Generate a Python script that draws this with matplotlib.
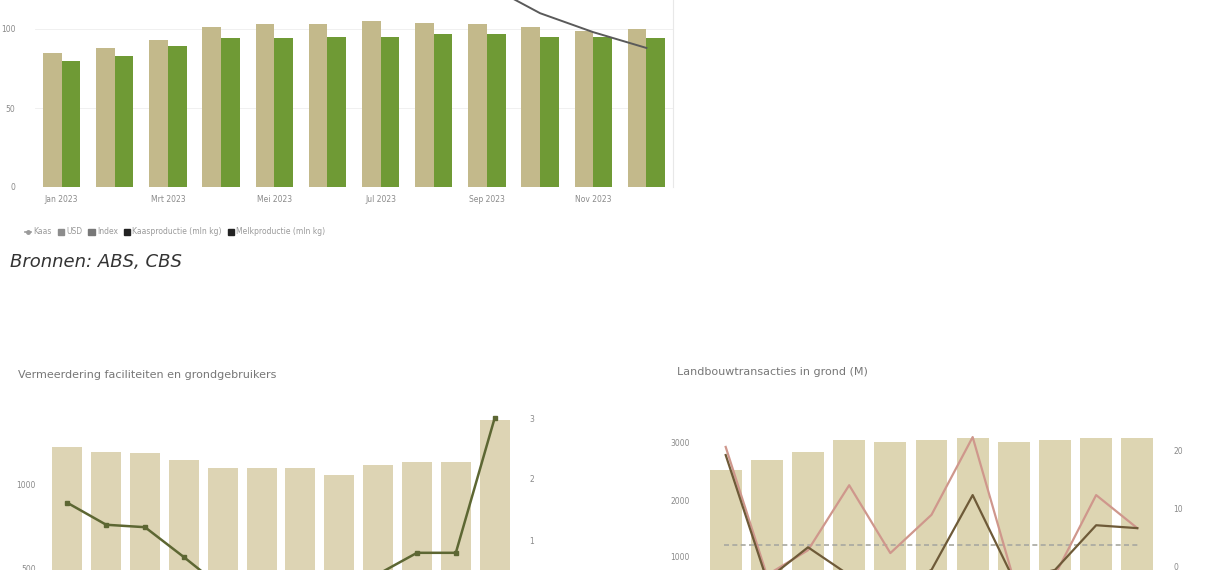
import matplotlib
matplotlib.use("Agg")
import matplotlib.pyplot as plt
from matplotlib.patches import Patch
from matplotlib.lines import Line2D
import numpy as np

W, H = 1218, 570

# ---------------- data ----------------
# top chart
top_months = ["Jan 2023", "Feb 2023", "Mrt 2023", "Apr 2023", "Mei 2023", "Jun 2023",
              "Jul 2023", "Aug 2023", "Sep 2023", "Okt 2023", "Nov 2023", "Dec 2023"]
top_tick_labels = ["Jan 2023", "Mrt 2023", "Mei 2023", "Jul 2023", "Sep 2023", "Nov 2023"]
usd_values = [85, 88, 93, 101, 103, 103, 105, 104, 103, 101, 99, 100]
index_values = [80, 83, 89, 94, 94, 95, 95, 97, 97, 95, 95, 94]
kaas_line = [None, None, None, None, None, None, None, None, 128, 110, 98, 88]
top_legend = ["Kaas", "USD", "Index", "Kaasproductie (mln kg)", "Melkproductie (mln kg)"]
source_text = "Bronnen: ABS, CBS"

# bottom-left chart
bl_title = "Vermeerdering faciliteiten en grondgebruikers"
bl_categories = ["jan", "feb", "mrt", "apr", "mei", "jun", "jul", "aug", "sep", "okt", "nov", "dec"]
bl_bars = [1230, 1200, 1190, 1150, 1100, 1100, 1100, 1060, 1120, 1140, 1140, 1390]
bl_line = [1.61, 1.25, 1.21, 0.72, 0.21, 0.10, 0.15, 0.30, 0.44, 0.79, 0.79, 3.0]

# bottom-right chart
br_title = "Landbouwtransacties in grond (M)"
br_categories = ["2013", "2014", "2015", "2016", "2017", "2018", "2019", "2020", "2021", "2022", "2023"]
br_bars = [2530, 2700, 2840, 3050, 3020, 3050, 3090, 3020, 3050, 3090, 3090]
br_line_a = [20.7, -1.4, 2.9, 14.1, 2.4, 9.0, 22.4, -2.2, -1.4, 12.4, 6.7]
br_line_b = [19.3, -2.2, 3.4, -1.4, -4.0, -0.5, 12.4, -2.2, -0.5, 7.2, 6.7]
br_average = 3.8

# ---------------- styling ----------------
TAN = "#c3b98b"
GREEN = "#6f9a35"
LIGHT_TAN = "#ddd4b4"
TICK_COLOR = "#8a8a8a"
plt.rcParams["font.family"] = ["DejaVu Sans"]

fig = plt.figure(figsize=(W / 100, H / 100), dpi=100)
fig.patch.set_facecolor("white")


def px_axes(left, top, right, bottom):
    return fig.add_axes([left / W, 1 - bottom / H, (right - left) / W, (bottom - top) / H])


def clean(ax):
    for s in ax.spines.values():
        s.set_visible(False)
    ax.tick_params(axis="both", length=0, labelsize=5.5, colors=TICK_COLOR)


# ---------------- top chart ----------------
ax = px_axes(35, -10, 673, 187)
x = np.arange(len(top_months))
bw = 0.35
ax.bar(x - bw / 2, usd_values, width=bw, color=TAN, zorder=2)
ax.bar(x + bw / 2, index_values, width=bw, color=GREEN, zorder=2)
lx = [i for i, v in enumerate(kaas_line) if v is not None]
ly = [v for v in kaas_line if v is not None]
ax.plot(lx, ly, color="#5a5a5a", lw=1.4, zorder=3)
ax.set_xlim(-0.5, len(x) - 0.5)
ax.set_ylim(0, (187 + 10) / 1.58)
ax.set_yticks([0, 50, 100])
ax.set_xticks([0, 2, 4, 6, 8, 10])
ax.set_xticklabels(top_tick_labels)
ax.grid(axis="y", color="#eeeeee", lw=0.6, zorder=0)
clean(ax)
ax.spines["right"].set_visible(True)
ax.spines["right"].set_color("#e8e8e8")
ax.tick_params(axis="y", pad=14)
ax.tick_params(axis="x", pad=6)

handles = [
    Line2D([0], [0], color="#9a9a9a", lw=1.2, marker="o", markersize=2.5),
    Patch(color="#8c8c8c"),
    Patch(color="#777777"),
    Patch(color="#222222"),
    Patch(color="#222222"),
]
fig.legend(handles, top_legend, loc="center left", bbox_to_anchor=(18 / W, 1 - 232 / H),
           ncol=5, frameon=False, fontsize=5.5, handlelength=0.8, handleheight=0.8,
           handletextpad=0.3, columnspacing=0.8, labelcolor="#9a9a9a")
fig.text(10 / W, 1 - 262 / H, source_text, fontsize=13, style="italic", color="#333333",
         va="center", ha="left")

# ---------------- bottom-left chart ----------------
fig.text(18 / W, 1 - 375 / H, bl_title, fontsize=8, color="#777777", va="center", ha="left")
ax2 = px_axes(44, 410, 518, 651)
xb = np.arange(len(bl_categories))
ax2.bar(xb, bl_bars, width=0.77, color=LIGHT_TAN, zorder=2)
ax2.set_xlim(-0.6, len(xb) - 0.4)
ax2.set_ylim(0, (651 - 410) / 0.166)
ax2.set_yticks([500, 1000])
ax2.set_xticks(xb)
ax2.set_xticklabels(bl_categories)
clean(ax2)
ax2.tick_params(axis="x", labelbottom=False)
ax2.tick_params(axis="y", pad=6)
ax2r = ax2.twinx()
ax2r.plot(xb, bl_line, color="#5d6733", lw=1.8, marker="s", markersize=3, zorder=4)
ax2r.set_ylim((601 - 651) / 61, (601 - 410) / 61)
ax2r.set_yticks([1, 2, 3])
clean(ax2r)
ax2r.tick_params(axis="x", labelbottom=False)
ax2r.tick_params(axis="y", pad=8)

# ---------------- bottom-right chart ----------------
fig.text(677 / W, 1 - 372 / H, br_title, fontsize=8, color="#777777", va="center", ha="left")
ax3 = px_axes(701, 425, 1162, 614)
xr = np.arange(len(br_categories))
ax3.bar(xr, br_bars, width=0.77, color="#ddd5b2", zorder=2)
ax3.set_xlim(-0.6, len(xr) - 0.4)
ax3.set_ylim(0, (614 - 425) / 0.057)
ax3.set_yticks([1000, 2000, 3000])
ax3.set_xticks(xr)
ax3.set_xticklabels(br_categories)
clean(ax3)
ax3.tick_params(axis="x", labelbottom=False)
ax3.tick_params(axis="y", pad=8)
ax3r = ax3.twinx()
ax3r.axhline(br_average, xmin=0.05, xmax=0.95, color="#a8a8a0", lw=1.2, ls=(0, (3, 2)), zorder=3)
ax3r.plot(xr, br_line_a, color="#cf978c", lw=1.6, zorder=4)
ax3r.plot(xr, br_line_b, color="#6e5a38", lw=1.6, zorder=5)
ax3r.set_ylim((567 - 614) / 5.8, (567 - 425) / 5.8)
ax3r.set_yticks([0, 10, 20])
clean(ax3r)
ax3r.tick_params(axis="x", labelbottom=False)
ax3r.tick_params(axis="y", pad=8)

fig.savefig("out.png", dpi=100, facecolor="white")
